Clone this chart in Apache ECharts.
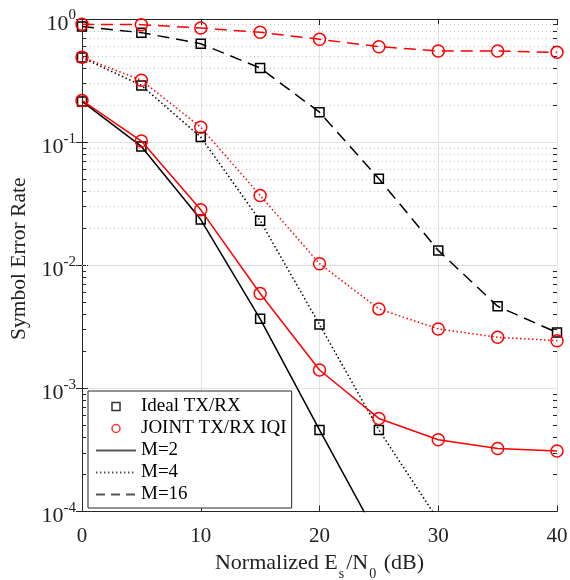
<!DOCTYPE html>
<html><head><meta charset="utf-8">
<script src="https://cdn.jsdelivr.net/npm/echarts@6/dist/echarts.min.js"></script>
<style>html,body{margin:0;padding:0;background:#fff}#c{width:570px;height:580px}</style>
</head><body><div id="c"></div>
<script>
// ---- data ----
const snrDb = [0, 5, 10, 15, 20, 25, 30, 35, 40];
const idealM2  = [0.214, 0.0923, 0.0235, 0.00367, 0.00046, 0.00006];
const idealM4  = [0.486, 0.289, 0.110, 0.0230, 0.0033, 0.00046, 0.000085];
const idealM16 = [0.87, 0.775, 0.63, 0.40, 0.175, 0.0504, 0.0132, 0.00464, 0.00284];
const jointM2  = [0.218, 0.102, 0.0282, 0.0059, 0.00141, 0.00057, 0.000383, 0.000325, 0.00031];
const jointM4  = [0.49, 0.318, 0.132, 0.0369, 0.0103, 0.00442, 0.00304, 0.0026, 0.00244];
const jointM16 = [0.905, 0.90, 0.845, 0.78, 0.684, 0.596, 0.55, 0.55, 0.536];
const legendNames = ['Ideal TX/RX', 'JOINT TX/RX IQI', 'M=2', 'M=4', 'M=16'];
const minorMultipliers = [2, 3, 4, 5, 6, 7, 8, 9];
const minorDecades = [1e-4, 1e-3, 1e-2, 1e-1];

const FONT = 'Liberation Serif';
const AXIS_COLOR = '#262626';
const pairs = arr => arr.map((v, i) => [snrDb[i], v]);
const minorVals = [];
minorDecades.forEach(d => minorMultipliers.forEach(m => minorVals.push(+(m * d).toPrecision(3))));

const DASH = [12, 7], DOT = [1.5, 2.5];
const CLEAR = 'rgba(0,0,0,0)';
const SQUARE_ICON = 'path://M0,0L10,0L10,10L0,10Z';
function mk(name, arr, color, type, symbol, size, z) {
  return {
    type: 'line', name, data: pairs(arr), z, clip: true,
    symbol, symbolSize: size, showSymbol: true, showAllSymbol: true,
    lineStyle: { color, width: 1.5, type, cap: 'butt' },
    itemStyle: { color: CLEAR, borderColor: color, borderWidth: 1.5 },
    emphasis: { disabled: true }, silent: true
  };
}
function legendLine(name, type) {
  return { type: 'line', name, data: [], symbol: 'none', showSymbol: false,
    lineStyle: { color: '#555', width: 1.5, type },
    itemStyle: { color: CLEAR, borderColor: CLEAR, borderWidth: 0, opacity: 0 } };
}

const series = [
  { type: 'line', name: '_grid', data: [], silent: true, z: 1,
    markLine: { silent: true, symbol: ['none', 'none'], label: { show: false }, animation: false, z: 1,
      emphasis: { disabled: true },
      lineStyle: { color: '#c4c4c4', type: [1, 3], width: 1 },
      data: minorVals.map(v => ({ yAxis: v })) } },
  { type: 'line', name: '_ticks', data: [], silent: true, z: 3,
    markLine: { silent: true, symbol: ['none', 'none'], label: { show: false }, animation: false, z: 3,
      emphasis: { disabled: true },
      lineStyle: { color: AXIS_COLOR, type: 'solid', width: 1 },
      data: minorVals.flatMap(v => [
        [{ coord: [0, v] }, { coord: [0.34, v] }],
        [{ coord: [39.66, v] }, { coord: [40, v] }]
      ]) } },
  mk('idealM16', idealM16, '#000', DASH, 'rect', 9, 2),
  mk('idealM4', idealM4, '#000', DOT, 'rect', 9, 2),
  mk('idealM2', idealM2, '#000', 'solid', 'rect', 9, 2),
  mk('jointM16', jointM16, '#ff0000', DASH, 'circle', 12, 3),
  mk('jointM4', jointM4, '#ff0000', DOT, 'circle', 12, 3),
  mk('jointM2', jointM2, '#ff0000', 'solid', 'circle', 12, 3),
  { type: 'scatter', name: legendNames[0], data: [], symbol: SQUARE_ICON, symbolKeepAspect: true,
    itemStyle: { color: CLEAR, borderColor: '#000', borderWidth: 1.5 } },
  { type: 'scatter', name: legendNames[1], data: [], symbol: 'circle',
    itemStyle: { color: CLEAR, borderColor: '#ff0000', borderWidth: 1.5 } },
  legendLine(legendNames[2], 'solid'),
  legendLine(legendNames[3], DOT),
  legendLine(legendNames[4], [9, 6])
];

const chart = echarts.init(document.getElementById('c'), null, { renderer: 'canvas' });
chart.setOption({
  animation: false,
  backgroundColor: '#fff',
  grid: { left: 82, right: 13, top: 19, bottom: 68.5, containLabel: false, outerBoundsMode: 'none' },
  legend: {
    orient: 'vertical', left: 88, top: 391, z: 10,
    backgroundColor: '#fff', borderColor: AXIS_COLOR, borderWidth: 1,
    padding: [6, 5, 4, 7], itemWidth: 40, itemHeight: 8, itemGap: 3,
    selectedMode: false, symbolKeepAspect: true,
    textStyle: { fontFamily: FONT, fontSize: 19, color: '#000', lineHeight: 19 },
    data: [
      { name: legendNames[0], icon: SQUARE_ICON, symbolKeepAspect: true,
        itemStyle: { color: CLEAR, borderColor: '#000', borderWidth: 1.5 } },
      { name: legendNames[1], icon: 'circle',
        itemStyle: { color: CLEAR, borderColor: '#ff0000', borderWidth: 1.5 } },
      legendNames[2], legendNames[3], legendNames[4]
    ]
  },
  xAxis: [
    { type: 'value', min: 0, max: 40, interval: 10, position: 'bottom',
      axisLine: { show: true, lineStyle: { color: AXIS_COLOR, width: 1 } },
      axisTick: { show: true, inside: true, length: 6, lineStyle: { color: AXIS_COLOR } },
      splitLine: { show: true, lineStyle: { color: '#e2e2e2', width: 1 } },
      axisLabel: { fontFamily: FONT, fontSize: 21, color: '#222', margin: 14 },
      name: '{n|Normalized E}{sub|s}{n|/N}{sub|0}{n| (dB)}',
      nameLocation: 'middle', nameGap: 40.5,
      nameTextStyle: { fontFamily: FONT, color: '#222',
        rich: {
          n: { fontFamily: FONT, fontSize: 22, lineHeight: 22, verticalAlign: 'top', color: '#222' },
          sub: { fontFamily: FONT, fontSize: 14, padding: [15, 2, 0, 1], color: '#222' }
        } } },
    { type: 'value', min: 0, max: 40, interval: 10, position: 'top',
      axisLine: { show: true, lineStyle: { color: AXIS_COLOR, width: 1 } },
      axisTick: { show: true, inside: true, length: 6, lineStyle: { color: AXIS_COLOR } },
      splitLine: { show: false }, axisLabel: { show: false } }
  ],
  yAxis: [
    { type: 'log', logBase: 10, min: 1e-4, max: 1, splitNumber: 4, position: 'left',
      axisLine: { show: true, lineStyle: { color: AXIS_COLOR, width: 1 } },
      axisTick: { show: true, inside: true, length: 6, lineStyle: { color: AXIS_COLOR } },
      splitLine: { show: true, lineStyle: { color: '#e2e2e2', width: 1 } },
      axisLabel: { margin: 6,
        formatter: v => '{b|10}{s|' + Math.round(Math.log10(v)) + '}',
        rich: {
          b: { fontFamily: FONT, fontSize: 22, lineHeight: 22, verticalAlign: 'bottom', color: '#222' },
          s: { fontFamily: FONT, fontSize: 15, padding: [5, 0, 12, 0], verticalAlign: 'top', color: '#222' }
        } },
      name: 'Symbol Error Rate', nameLocation: 'middle', nameGap: 41,
      nameTextStyle: { fontFamily: FONT, fontSize: 21.5, color: '#222', padding: [0, 0, 0, 13] } },
    { type: 'log', logBase: 10, min: 1e-4, max: 1, splitNumber: 4, position: 'right',
      axisLine: { show: true, lineStyle: { color: AXIS_COLOR, width: 1 } },
      axisTick: { show: true, inside: true, length: 6, lineStyle: { color: AXIS_COLOR } },
      splitLine: { show: false }, axisLabel: { show: false } }
  ],
  series
});
</script></body></html>
